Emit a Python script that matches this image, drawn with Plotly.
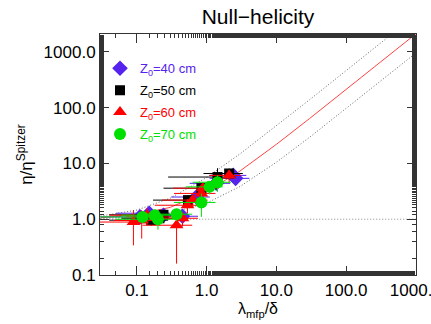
import plotly.graph_objects as go

# ---------------- data ----------------
# Z0 = 40 cm (blue diamonds)
x40 = [0.11, 0.15, 0.24, 0.45, 0.71, 1.37, 2.4, 2.6]
y40 = [1.1, 1.28, 1.18, 1.13, 2.5, 4.4, 6.1, 5.4]
x40err = [0.08, 0.1, 0.15, 0.3, 0.4, 0.8, 1.3, 1.5]
y40err = [0.2, 0.3, 0.3, 0.3, 0.6, 1.0, 1.0, 1.0]

# Z0 = 50 cm (black squares)
x50 = [0.16, 0.21, 0.24, 0.54, 0.84, 1.43, 2.1]
y50 = [0.96, 1.04, 1.2, 2.2, 3.6, 5.7, 6.6]
x50err = [0.12, 0.15, 0.2, 0.37, 0.6, 1.15, 1.2]
y50err = [0.2, 0.25, 0.2, 0.5, 0.8, 2.5, 1.5]

# Z0 = 60 cm (red triangles)
x60 = [0.089, 0.117, 0.14, 0.19, 0.37, 0.45, 0.53, 0.63, 0.84, 0.88, 2.1]
y60 = [0.89, 0.95, 1.18, 1.1, 0.78, 1.04, 1.78, 2.2, 2.9, 3.6, 6.1]
x60err = [0.06, 0.07, 0.1, 0.12, 0.25, 0.3, 0.35, 0.4, 0.5, 0.55, 1.0]
y60err = [0.55, 0.5, 0.4, 0.3, 0.62, 0.3, 0.5, 0.6, 0.7, 0.9, 1.5]

# Z0 = 70 cm (green circles)
x70 = [0.12, 0.18, 0.2, 0.37, 0.84, 1.1, 1.43]
y70 = [1.1, 1.18, 1.0, 1.23, 2.0, 3.8, 4.6]
x70err = [0.1, 0.12, 0.15, 0.25, 0.5, 0.6, 0.8]
y70err = [0.25, 0.3, 0.35, 0.3, 0.9, 1.0, 1.5]

# model curves (sampled)
xm = [0.03, 0.1, 0.3, 1.0, 3.0, 10.0, 30.0, 100.0, 300.0, 1000.0, 1200.0]
ym_mid = [1.06, 1.21, 1.63, 3.1, 7.3, 22.0, 64.0, 211.0, 631.0, 2100.0, 2520.0]
ym_up = [1.14, 1.46, 2.38, 5.6, 14.8, 47.0, 139.0, 461.0, 1381.0, 4600.0, 5520.0]
ym_lo = [1.03, 1.1, 1.29, 1.95, 3.85, 10.5, 29.5, 96.0, 286.0, 951.0, 1141.0]
x_unity = [0.02, 2000.0]
y_unity = [1.0, 1.0]

xtickvals = [0.1, 1.0, 10.0, 100.0, 1000.0]
xticktext = ["0.1", "1.0", "10.0", "100.0", "1000.0"]
ytickvals = [0.1, 1.0, 10.0, 100.0, 1000.0]
yticktext = ["0.1", "1.0", "10.0", "100.0", "1000.0"]

series = [
    ("40", x40, y40, x40err, y40err, "#5522ee", "diamond", 12),
    ("50", x50, y50, x50err, y50err, "#000000", "square", 10),
    ("60", x60, y60, x60err, y60err, "#ff0000", "triangle-up", 12),
    ("70", x70, y70, x70err, y70err, "#00e000", "circle", 12),
]

FONT = "Liberation Sans, Arial, sans-serif"

fig = go.Figure()

fig.add_trace(go.Scatter(x=x_unity, y=y_unity, mode="lines",
                         line=dict(color="#888888", width=1, dash="1px,2px"),
                         showlegend=False, hoverinfo="skip"))
fig.add_trace(go.Scatter(x=xm, y=ym_up, mode="lines",
                         line=dict(color="#666666", width=1, dash="1px,2px"),
                         showlegend=False))
fig.add_trace(go.Scatter(x=xm, y=ym_lo, mode="lines",
                         line=dict(color="#666666", width=1, dash="1px,2px"),
                         showlegend=False))
fig.add_trace(go.Scatter(x=xm, y=ym_mid, mode="lines",
                         line=dict(color="#ff4444", width=1),
                         showlegend=False))

for i, (z, xs, ys, xe, ye, col, sym, sz) in enumerate(series):
    fig.add_trace(go.Scatter(
        x=xs, y=ys, mode="markers",
        marker=dict(symbol=sym, size=sz, color=col, line=dict(width=0)),
        error_x=dict(type="data", array=xe, color=col, thickness=1, width=0),
        error_y=dict(type="data", array=ye, color=col, thickness=1, width=0),
        name='<span style="color:%s">Z<sub>0</sub>=%s cm</span>' % (col, z),
        legendgroup="g%d" % i,
    ))

axis_common = dict(
    type="log", showgrid=False, zeroline=False, automargin=False,
    showline=True, linecolor="#333333", linewidth=1, mirror="ticks",
    ticks="inside", ticklen=9, tickcolor="#333333",
    ticklabeloverflow="allow",
    minor=dict(ticks="inside", ticklen=4, tickcolor="#333333", showgrid=False),
    tickfont=dict(family=FONT, size=17, color="#000000"),
)

fig.update_layout(
    width=431, height=324,
    margin=dict(l=100, r=15, t=34, b=49),
    paper_bgcolor="white", plot_bgcolor="white",
    font=dict(family=FONT, color="#000000"),
    title=dict(text="Null\u2212helicity", x=0.5, xref="paper", xanchor="center",
               y=0.95, yanchor="middle",
               font=dict(family=FONT, size=21, color="#000000")),
    xaxis=dict(axis_common, range=[-1.53, 3.002], tickvals=xtickvals, ticktext=xticktext,
               title=dict(text="\u03bb<sub>mfp</sub>/\u03b4", standoff=0,
                          font=dict(family=FONT, size=16, color="#000000"))),
    yaxis=dict(axis_common, range=[-1.0, 3.32], tickvals=ytickvals, ticktext=yticktext,
               title=dict(text="\u03b7/\u03b7<sup>Spitzer</sup>", standoff=6,
                          font=dict(family=FONT, size=17, color="#000000"))),
    legend=dict(x=0.0, y=0.92, xanchor="left", yanchor="top",
                bgcolor="rgba(0,0,0,0)", tracegroupgap=2,
                font=dict(family=FONT, size=13)),
    showlegend=True,
)

fig.write_html("out.html",
               config={"displayModeBar": False},
               post_script="document.body.style.margin='0';document.body.style.overflow='hidden';")
